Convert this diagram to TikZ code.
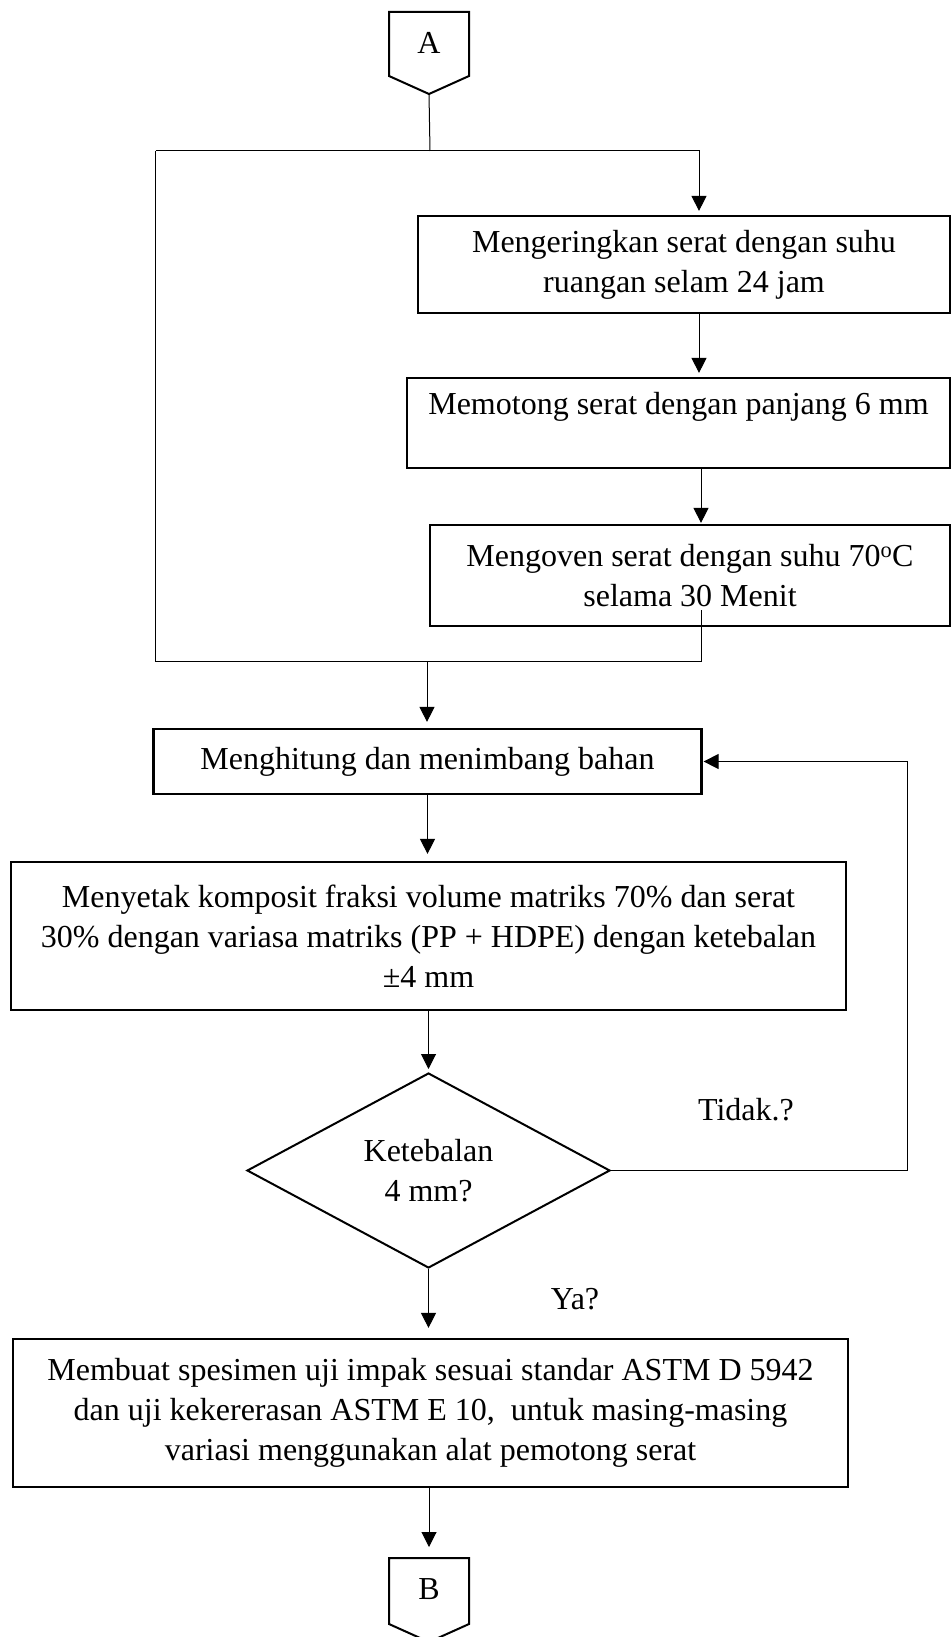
\documentclass[tikz,border=0pt]{standalone}
\usepackage{fontspec}
\setmainfont{Liberation Serif}
\usepackage{tikz}
\usetikzlibrary{arrows.meta,shapes.geometric,calc}
\newcommand{\txtsize}{\fontsize{32}{40}\selectfont}
\tikzset{
    boxsty/.style={draw,line width=2.2pt,rectangle,align=center,inner sep=0pt,font=\txtsize},
    decsty/.style={draw,line width=2pt,diamond,aspect=1.86,align=center,inner sep=0pt,
                   minimum width=363pt,minimum height=195pt,font=\txtsize},
    offsty/.style={draw,line width=2pt,line join=miter},
    linesty/.style={line width=1pt},
    arrsty/.style={line width=1pt,->,shorten >=4pt},
    labsty/.style={font=\txtsize,inner sep=0pt},
}

\begin{document}
\begin{tikzpicture}[x=1pt,y=-1pt,>={Triangle[length=15pt,width=15pt]}]
\useasboundingbox (0,0) rectangle (951,1637);

% off-page connectors
\draw[offsty] (389,12) -- (469,12) -- (469,76) -- (429,94) -- (389,76) -- cycle;
\node[labsty] (A) at (429,43) {A};
\coordinate (Atip) at (429,94);
\draw[offsty] (389,1558) -- (469,1558) -- (469,1624) -- (429,1642) -- (389,1624) -- cycle;
\node[labsty] (B) at (429,1589) {B};
\coordinate (Btop) at (429,1558);

% process boxes
\node[boxsty,minimum width=532pt,minimum height=97pt] (dry) at (684,264.5)
  {Mengeringkan serat dengan suhu\\ruangan selam 24 jam};
\node[boxsty,minimum width=543pt,minimum height=90pt] (cut) at (678.5,423)
  {Memotong serat dengan panjang 6 mm\\~};
\node[boxsty,minimum width=520pt,minimum height=101pt] (oven) at (690,575.5)
  {Mengoven serat dengan suhu 70\textsuperscript{o}C\\selama 30 Menit};
\node[boxsty,minimum width=548pt,minimum height=65pt] (weigh) at (427.5,761.5)
  {Menghitung dan menimbang bahan};
\node[boxsty,minimum width=835pt,minimum height=148pt] (mould) at (428.5,936)
  {Menyetak komposit fraksi volume matriks 70\% dan serat\\30\% dengan variasa matriks (PP + HDPE) dengan ketebalan\\±4 mm};
\node[decsty] (thick) at (428.5,1170.5) {Ketebalan\\4 mm?};
\node[boxsty,minimum width=835pt,minimum height=148pt] (spec) at (430.5,1413)
  {Membuat spesimen uji impak sesuai standar ASTM D 5942\\dan uji kekererasan ASTM E 10,~ untuk masing-masing\\variasi menggunakan alat pemotong serat};

\node[labsty] (no) at (746,1110) {Tidak.?};
\node[labsty] (yes) at (575,1299) {Ya?};

% loop round the fibre preparation
\coordinate (jtop) at (430,151);
\coordinate (ltop) at (155.5,151);
\coordinate (rtop) at (699,151);
\coordinate (ovenout) at (701,610);
\coordinate (lbot) at (155.5,661);
\coordinate (jbot) at (427,661);
\coordinate (fback) at (907,761.5);

\draw[linesty] (Atip) -- (jtop);
\draw[arrsty] (ltop) -- (rtop) -- (rtop |- dry.north);
\draw[linesty] (ovenout) -- (ovenout |- lbot) -- (lbot) -- (ltop);
\draw[arrsty] (rtop |- dry.south) -- (rtop |- cut.north);
\draw[arrsty,shorten >=1pt] (ovenout |- cut.south) -- (ovenout |- oven.north);
\draw[arrsty,shorten >=6pt] (jbot) -- (jbot |- weigh.north);
\draw[arrsty,shorten >=7pt] (weigh.south) -- (weigh.south |- mould.north);
\draw[arrsty,shorten >=3pt] (mould.south -| thick.north) -- (thick.north);
\draw[arrsty,shorten >=1pt] (thick.east) -| (fback) -- (weigh.east);
\draw[arrsty,shorten >=10pt] (thick.south) -- (thick.south |- spec.north);
\draw[arrsty,shorten >=11pt] (spec.south -| Btop) -- (Btop);
\end{tikzpicture}
\end{document}
